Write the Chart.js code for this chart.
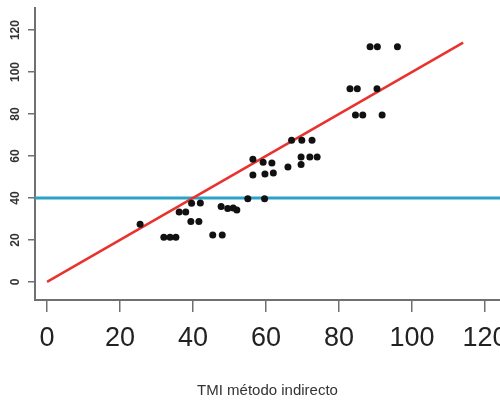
<!DOCTYPE html>
<html>
<head>
<meta charset="utf-8">
<script src="https://cdn.jsdelivr.net/npm/chart.js@4.4.1/dist/chart.umd.min.js"></script>
<style>
  html, body { margin: 0; padding: 0; background: #fff; }
  canvas { display: block; }
</style>
</head>
<body>
<canvas id="tmi" width="500" height="407"></canvas>
<script>
// TMI: indirect method (x) vs direct method (y)
const xValues = [25.5, 32, 33.7, 35.3, 36.2, 38, 39.6, 42, 39.4, 41.6,
  45.4, 48, 47.7, 49.5, 51, 52, 55, 59.6, 56.4, 59.7,
  62, 56.4, 59.2, 61.6, 66, 69.6, 69.6, 72, 74, 67,
  69.8, 72.6, 83, 85, 90.4, 84.5, 86.5, 91.8, 88.5, 90.5, 96];
const yValues = [27.5, 21.3, 21.3, 21.3, 33.3, 33.3, 37.5, 37.6, 28.8, 28.8,
  22.4, 22.4, 36, 35, 35.2, 34.3, 39.6, 39.6, 51, 51.4,
  51.9, 58.5, 57, 56.7, 54.8, 59.5, 56, 59.5, 59.5, 67.5,
  67.5, 67.5, 92, 92, 92, 79.5, 79.5, 79.5, 112, 112, 112];

// identity line and horizontal reference
const identityX = [0, 114];
const refLevel = 40;

const xTicks = [0, 20, 40, 60, 80, 100, 120];
const yTicks = [0, 20, 40, 60, 80, 100, 120];
const xRange = [-3.3, 124.1];
const yRange = [-8.6, 130.5];

const axisColor = '#707070';

const points = xValues.map((x, i) => ({ x: x, y: yValues[i] }));

// keep the plot box fixed: no extra room for overhanging labels
function noOverhang(s) {
  s.paddingLeft = 0;
  s.paddingRight = 0;
  s.paddingTop = 0;
  s.paddingBottom = 0;
}

const ctx = document.getElementById('tmi').getContext('2d');
const chart = new Chart(ctx, {
  data: {
    datasets: [
      {
        type: 'line',
        data: [{ x: xRange[0], y: refLevel }, { x: xRange[1], y: refLevel }],
        borderColor: '#2ba3c6',
        borderWidth: 3,
        pointRadius: 0,
        order: 3
      },
      {
        type: 'line',
        data: identityX.map(v => ({ x: v, y: v })),
        borderColor: '#e8322e',
        borderWidth: 2.5,
        pointRadius: 0,
        order: 2
      },
      {
        type: 'scatter',
        data: points,
        backgroundColor: '#111',
        borderColor: '#111',
        pointRadius: 3.5,
        borderWidth: 0,
        order: 1
      }
    ]
  },
  options: {
    responsive: false,
    animation: false,
    layout: { padding: { top: 8, left: 0, right: 0, bottom: 0 }, autoPadding: false },
    plugins: {
      legend: { display: false },
      tooltip: { enabled: false }
    },
    scales: {
      x: {
        type: 'linear',
        min: xRange[0],
        max: xRange[1],
        afterBuildTicks: s => { s.ticks = xTicks.map(v => ({ value: v })); },
        afterFit: s => { s.height = 107; noOverhang(s); },
        grid: { drawOnChartArea: false, drawTicks: true, tickLength: 12, color: axisColor, lineWidth: 1.5 },
        border: { display: true, color: axisColor, width: 2 },
        ticks: {
          autoSkip: false,
          maxRotation: 0,
          padding: 10,
          color: '#222',
          font: { family: 'Liberation Sans', size: 27 }
        },
        title: {
          display: true,
          text: 'TMI método indirecto',
          color: '#333',
          font: { family: 'Liberation Sans', size: 15 },
          padding: { top: 0, bottom: 7 }
        }
      },
      y: {
        type: 'linear',
        min: yRange[0],
        max: yRange[1],
        afterBuildTicks: s => { s.ticks = yTicks.map(v => ({ value: v })); },
        afterFit: s => { s.width = 35; noOverhang(s); },
        grid: { drawOnChartArea: false, drawTicks: true, tickLength: 7, color: axisColor, lineWidth: 1.5 },
        border: { display: true, color: axisColor, width: 2 },
        ticks: {
          autoSkip: false,
          minRotation: 90,
          maxRotation: 90,
          crossAlign: 'center',
          padding: 2,
          color: '#333',
          font: { family: 'Liberation Sans', size: 12, weight: 'bold' }
        }
      }
    }
  }
});
</script>
</body>
</html>
